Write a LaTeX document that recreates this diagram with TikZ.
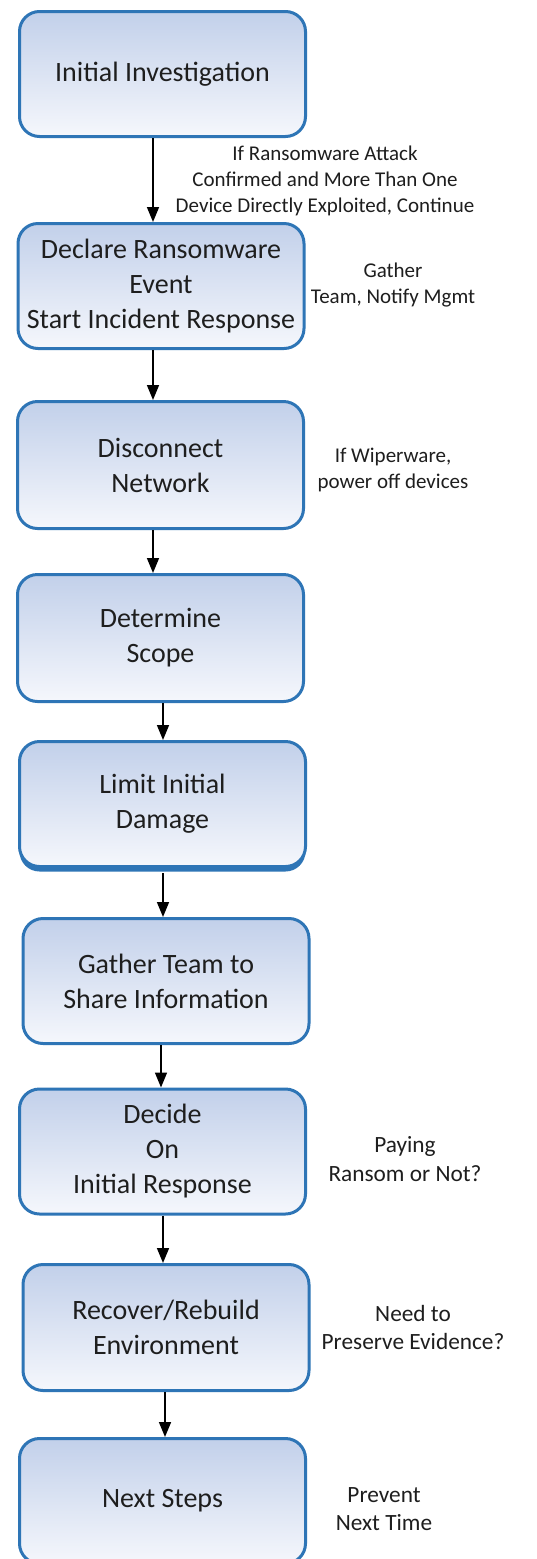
\documentclass[tikz,border=0pt]{standalone}
\usepackage{fontspec}
\setmainfont{Carlito}
\usetikzlibrary{arrows.meta,shadows}
\definecolor{boxborder}{RGB}{46,117,182}
\definecolor{boxtop}{RGB}{194,208,234}
\definecolor{boxbot}{RGB}{245,247,252}
\definecolor{txt}{RGB}{30,30,30}
\begin{document}
\begin{tikzpicture}[x=1pt,y=-1pt,
  stepbox/.style={draw=boxborder, line width=3pt, rounded corners=20pt,
    top color=boxtop, bottom color=boxbot, minimum width=286pt, minimum height=125pt,
    align=center, font=\fontsize{28}{35}\selectfont, text=txt, inner sep=0pt},
  note/.style={align=center, font=\fontsize{21}{26}\selectfont, text=txt, inner sep=0pt},
  noteb/.style={align=center, font=\fontsize{23.3}{28.5}\selectfont, text=txt, inner sep=0pt},
  arr/.style={-{Triangle[width=12pt,length=15pt]}, line width=1.6pt, black}]
\useasboundingbox (0,0) rectangle (537,1559);
\clip (0,0) rectangle (537,1559);
\fill[white] (0,0) rectangle (537,1559);

\node[stepbox] (b1) at (162.5,74) {Initial Investigation};
\node[stepbox] (b2) at (161,286) {Declare Ransomware\\Event\\Start Incident Response};
\node[stepbox, minimum height=127pt] (b3) at (160.5,465) {Disconnect\\Network};
\node[stepbox, minimum height=127pt] (b4) at (160.5,638) {Determine\\Scope};
\node[stepbox, drop shadow={shadow xshift=0pt, shadow yshift=-5pt, fill=boxborder, opacity=1}] (b5) at (162.5,804) {Limit Initial\\Damage};
\node[stepbox] (b6) at (166,981) {Gather Team to\\Share Information};
\node[stepbox] (b7) at (162.5,1151.5) {Decide\\On\\Initial Response};
\node[stepbox, minimum height=126pt] (b8) at (166,1327.5) {Recover/Rebuild\\Environment};
\node[stepbox] (b9) at (162.5,1501) {Next Steps};

\coordinate (x1) at (153,0);
\coordinate (x2) at (153,0);
\coordinate (x3) at (153,0);
\coordinate (x4) at (163,0);
\coordinate (x5) at (163,0);
\coordinate (x6) at (161,0);
\coordinate (x7) at (163,0);
\coordinate (x8) at (165,0);

\draw[arr] (b1.south -| x1) -- (b2.north -| x1);
\draw[arr] (b2.south -| x2) -- (b3.north -| x2);
\draw[arr] (b3.south -| x3) -- (b4.north -| x3);
\draw[arr] (b4.south -| x4) -- (b5.north -| x4);
\draw[arr] ([yshift=-5pt]b5.south -| x5) -- (b6.north -| x5);
\draw[arr] (b6.south -| x6) -- (b7.north -| x6);
\draw[arr] (b7.south -| x7) -- (b8.north -| x7);
\draw[arr] (b8.south -| x8) -- (b9.north -| x8);

\node[note] (n1) at (325,181) {If Ransomware Attack\\Confirmed and More Than One\\Device Directly Exploited, Continue};
\node[note] (n2) at (393,285) {Gather\\Team, Notify Mgmt};
\node[note] (n3) at (393,469.5) {If Wiperware,\\power off devices};
\node[noteb] (n7) at (405,1159) {Paying\\Ransom or Not?};
\node[noteb] (n8) at (413,1327.5) {Need to\\Preserve Evidence?};
\node[noteb] (n9) at (384,1509) {Prevent\\Next Time};
\end{tikzpicture}
\end{document}
